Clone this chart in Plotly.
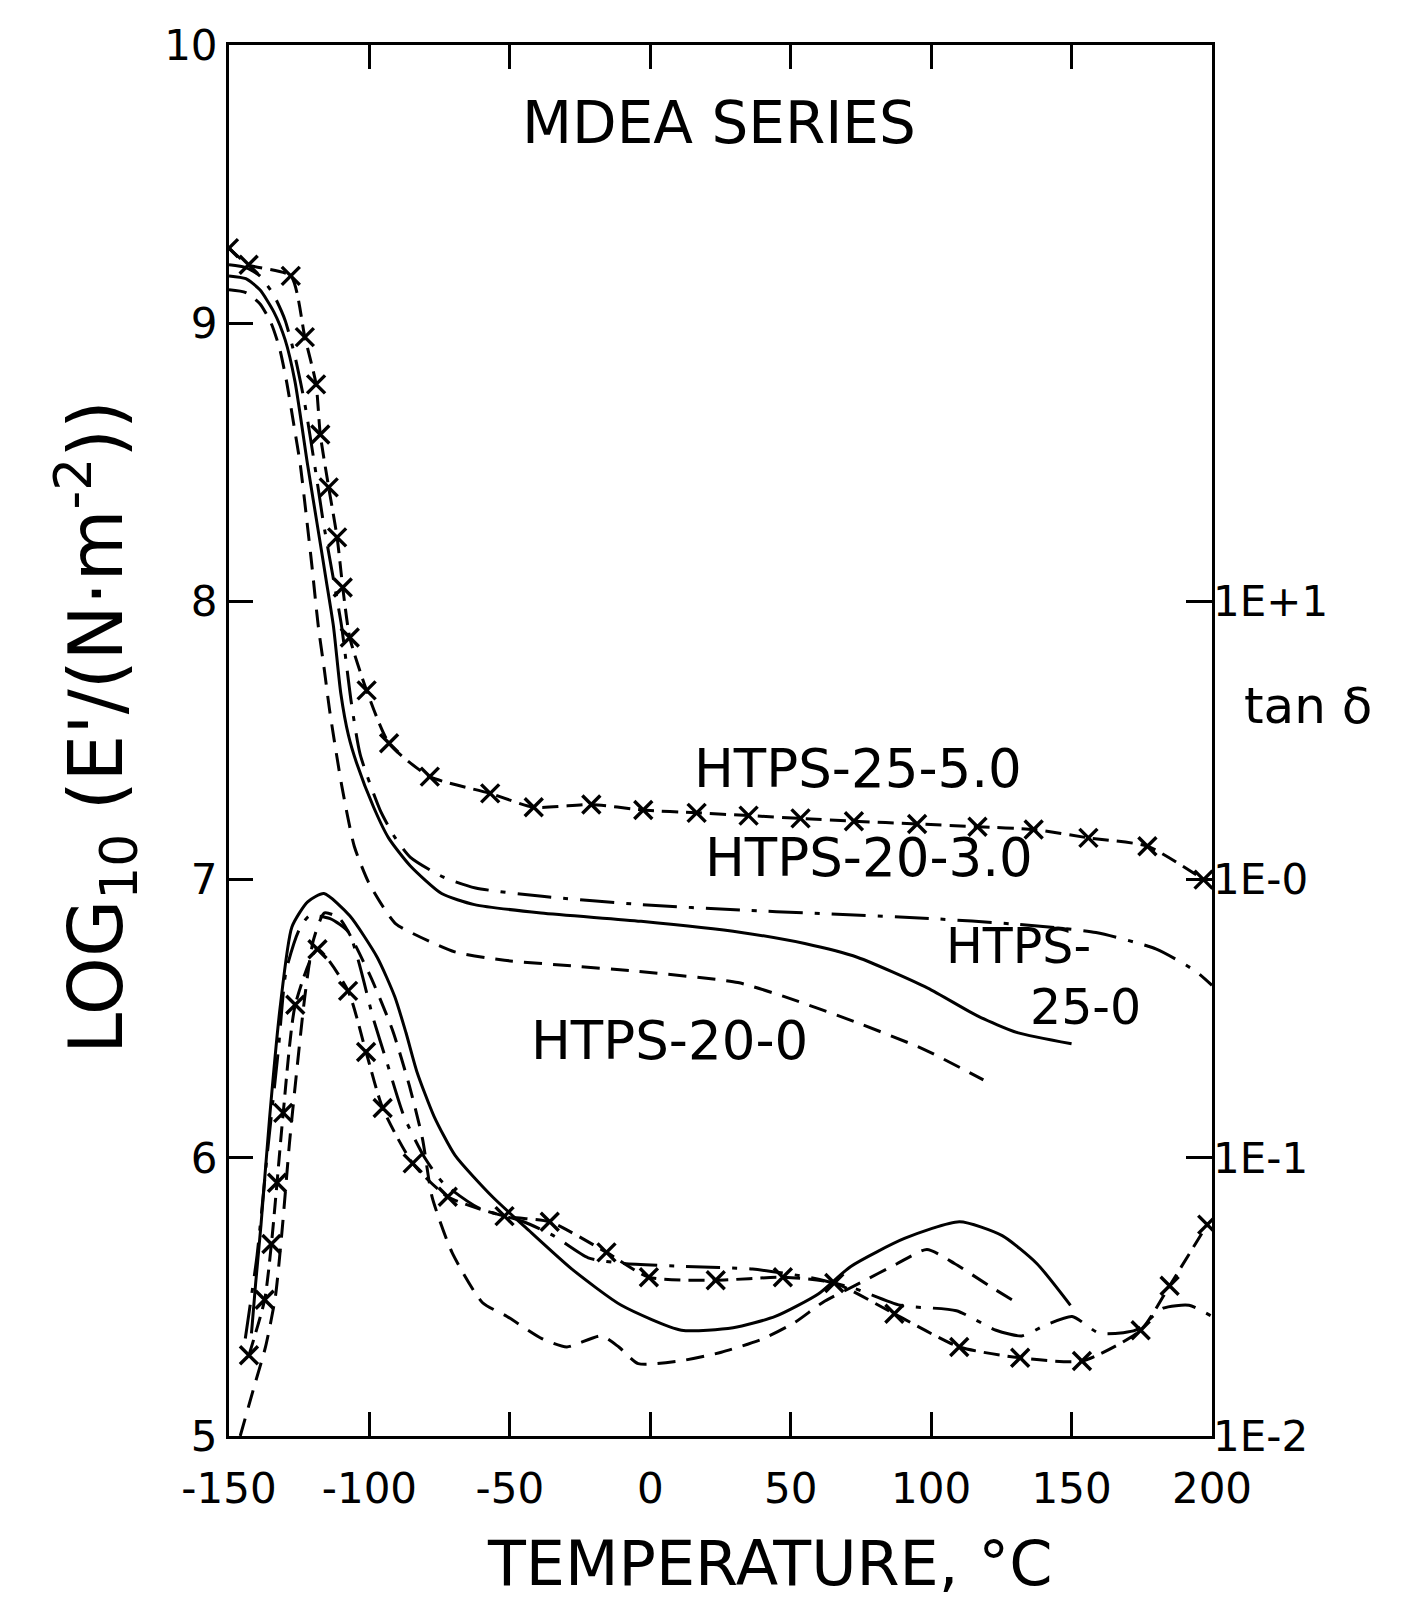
import plotly.graph_objects as go

# ---------------- Storage modulus, log10 E' (N m^-2) ----------------
# HTPS-25-5.0 (dashed line with x markers)
T_E_25_50 = [-150, -143, -128, -123, -119, -117.5, -114.5, -111.5, -109.5, -107, -101, -93,
             -78.5, -57, -41.5, -21, -2.5, 16.5, 35, 53.5, 72.5, 95, 116.5, 136.5, 156, 177, 197]
E_25_50 = [9.27, 9.21, 9.17, 8.95, 8.78, 8.60, 8.41, 8.23, 8.05, 7.87, 7.68, 7.49,
           7.37, 7.31, 7.26, 7.27, 7.25, 7.24, 7.23, 7.22, 7.21, 7.20, 7.19, 7.18, 7.15, 7.12, 7.00]

# HTPS-20-3.0 (dash-dot)
T_E_20_30 = [-150, -144, -139, -134, -130, -126.5, -123, -119.5, -116.5, -113, -109.9, -106.5,
             -103.3, -96.2, -90.8, -85.4, -73.9, -62.2, -38.5, -2.9, 32.9, 56.7, 100, 129.6,
             158.7, 180.2, 194.3, 200]
E_20_30 = [9.21, 9.20, 9.17, 9.10, 9.01, 8.88, 8.71, 8.49, 8.29, 8.09, 7.91, 7.64,
           7.45, 7.25, 7.15, 7.08, 7.01, 6.97, 6.94, 6.91, 6.89, 6.88, 6.86, 6.84,
           6.81, 6.75, 6.67, 6.62]

# HTPS-25-0 (solid)
T_E_25_0 = [-150, -144, -139, -134, -130, -126.5, -122, -118, -115.3, -112.8, -110.2, -107.5,
            -104.6, -98.5, -93.2, -85.5, -74.3, -62.6, -38.9, -3.3, 32.4, 55, 73.9, 98.8,
            116.5, 130.7, 150]
E_25_0 = [9.17, 9.16, 9.12, 9.04, 8.94, 8.79, 8.49, 8.24, 8.07, 7.91, 7.67, 7.52,
          7.42, 7.26, 7.15, 7.05, 6.95, 6.91, 6.88, 6.85, 6.81, 6.77, 6.72, 6.61,
          6.51, 6.45, 6.41]

# HTPS-20-0 (dashed)
T_E_20_0 = [-150, -144, -139, -135, -132, -129.5, -127, -124.6, -122.5, -120.5, -118.2, -116,
            -114.2, -109.9, -105.4, -100.3, -95, -90.5, -81.2, -69.6, -51.9, -28.2, -4.4,
            31.2, 47.5, 72.5, 97.4, 118.6]
E_20_0 = [9.12, 9.11, 9.07, 9.00, 8.91, 8.79, 8.64, 8.49, 8.31, 8.13, 7.91, 7.75,
          7.61, 7.34, 7.12, 6.99, 6.90, 6.84, 6.79, 6.74, 6.71, 6.69, 6.67,
          6.63, 6.58, 6.49, 6.39, 6.28]

# ---------------- Loss tangent, tan delta ----------------
T_tan_25_50 = [-142.9, -137.3, -134.9, -132.9, -130.7, -126.4, -118.5, -107.6, -101.2, -95.3,
               -84.6, -72.1, -51.9, -35.8, -15.6, -0.5, 23.3, 47.2, 65.5, 86.9, 110, 131.7,
               153.7, 174.6, 184.9, 198.3]
tan_25_50 = [0.0195, 0.0309, 0.0490, 0.0813, 0.145, 0.355, 0.562, 0.398, 0.240, 0.151,
             0.0955, 0.0724, 0.0617, 0.0589, 0.0457, 0.0372, 0.0363, 0.0372, 0.0355, 0.0275,
             0.0209, 0.0191, 0.0186, 0.0240, 0.0347, 0.0575]

T_tan_20_30 = [-144.2, -140, -136.3, -132.5, -129.7, -125, -121.4, -114, -107.4, -98.6, -93.7,
               -87.7, -80.3, -73.8, -61.2, -45.1, -34.5, -22.1, -9.3, 12.6, 36.4, 56.5, 72.8,
               89, 109, 123.1, 132.3, 141, 150.2, 159.9, 172.8, 182.6, 191.8, 200]
tan_20_30 = [0.0224, 0.0447, 0.105, 0.240, 0.468, 0.661, 0.741, 0.724, 0.646, 0.316, 0.219,
             0.141, 0.100, 0.0813, 0.0661, 0.0589, 0.0525, 0.0437, 0.0417, 0.0407, 0.0398,
             0.0372, 0.0339, 0.0295, 0.0282, 0.0240, 0.0229, 0.0251, 0.0269, 0.0234, 0.0240,
             0.0288, 0.0295, 0.0269]

T_tan_25_0 = [-142, -140.5, -138.6, -135.5, -131.8, -127.6, -122, -116.2, -107, -97.2, -91, -87,
              -83.1, -77, -69.5, -56.2, -44.4, -27.9, -10.3, 11.1, 29.5, 44.5, 59.8, 71.4,
              90.5, 110.1, 125.3, 137.6, 149.6]
tan_25_0 = [0.0234, 0.0355, 0.0575, 0.141, 0.347, 0.676, 0.832, 0.891, 0.741, 0.525, 0.380,
            0.282, 0.204, 0.141, 0.102, 0.0724, 0.0562, 0.0398, 0.0295, 0.0240, 0.0245,
            0.0269, 0.0324, 0.0407, 0.0513, 0.0589, 0.0525, 0.0417, 0.0295]

T_tan_20_0 = [-146, -141, -137, -133.5, -131, -128.5, -126, -123, -120, -116, -110.6, -100,
              -91.8, -85.8, -81.1, -77.7, -70.6, -59.8, -51, -38.6, -29.7, -17.5, -11.2, -4.3,
              10.4, 25.3, 40.3, 51.7, 61.4, 74.7, 88, 98.5, 108.3, 120.6, 130.3]
tan_20_0 = [0.0100, 0.0151, 0.0209, 0.0316, 0.0562, 0.112, 0.200, 0.380, 0.603, 0.759, 0.724,
            0.457, 0.288, 0.182, 0.117, 0.0724, 0.0457, 0.0302, 0.0269, 0.0224, 0.0209,
            0.0229, 0.0209, 0.0182, 0.0186, 0.0200, 0.0224, 0.0257, 0.0302, 0.0355, 0.0417,
            0.0468, 0.0417, 0.0347, 0.0302]

# ---------------- Axis ticks ----------------
x_ticks = [-150, -100, -50, 0, 50, 100, 150, 200]
x_tick_text = ["-150", "-100", "-50", "0", "50", "100", "150", "200"]
y_ticks = [5, 6, 7, 8, 9, 10]
tan_ticks = [0.01, 0.1, 1, 10]
tan_tick_text = ["1E-2", "1E-1", "1E-0", "1E+1"]

FONT = "DejaVu Sans"
BLACK = "#000000"
LW = 3

DASH = "18px,11px"
DASHDOT = "34px,12px,5px,12px"
DASHX = "16px,8px"

fig = go.Figure()


def add_curve(T, V, dash, axis, with_x=False):
    mode = "lines+markers" if with_x else "lines"
    kw = dict(
        x=T, y=V, mode=mode, yaxis=axis, showlegend=False, hoverinfo="skip",
        line=dict(color=BLACK, width=LW, dash=dash, shape="spline", smoothing=0.6),
    )
    if with_x:
        kw["marker"] = dict(symbol="x-thin", size=18, color=BLACK,
                            line=dict(color=BLACK, width=3.4))
    fig.add_trace(go.Scatter(**kw))


# E' curves
add_curve(T_E_25_50, E_25_50, DASHX, "y", with_x=True)
add_curve(T_E_20_30, E_20_30, DASHDOT, "y")
add_curve(T_E_25_0, E_25_0, "solid", "y")
add_curve(T_E_20_0, E_20_0, DASH, "y")

# tan delta curves
add_curve(T_tan_25_50, tan_25_50, DASHX, "y2", with_x=True)
add_curve(T_tan_20_30, tan_20_30, DASHDOT, "y2")
add_curve(T_tan_25_0, tan_25_0, "solid", "y2")
add_curve(T_tan_20_0, tan_20_0, DASH, "y2")

# Labels in the plot
label_font = dict(family=FONT, size=53, color=BLACK)
labels = [
    ("HTPS-25-5.0", 74, 7.40),
    ("HTPS-20-3.0", 78, 7.08),
    ("HTPS-20-0", 7, 6.42),
]
for txt, xv, yv in labels:
    fig.add_annotation(x=xv, y=yv, xref="x", yref="y", text=txt, showarrow=False,
                       font=label_font, xanchor="center", yanchor="middle")

small_label_font = dict(family=FONT, size=49, color=BLACK)
for txt, xv, yv in [("HTPS-", 131, 6.76), ("25-0", 155, 6.54)]:
    fig.add_annotation(x=xv, y=yv, xref="x", yref="y", text=txt, showarrow=False,
                       font=small_label_font, xanchor="center", yanchor="middle")

fig.add_annotation(x=24.6, y=9.72, xref="x", yref="y", text="MDEA SERIES",
                   showarrow=False, font=dict(family=FONT, size=58, color=BLACK),
                   xanchor="center", yanchor="middle")

fig.add_annotation(x=1.098, y=0.525, xref="paper", yref="paper", text="tan δ",
                   showarrow=False, font=dict(family=FONT, size=50, color=BLACK),
                   xanchor="center", yanchor="middle")

fig.add_annotation(x=-0.135, y=0.51, xref="paper", yref="paper",
                   text="LOG<sub>10</sub> (E'/(N·m<sup>-2</sup>))", textangle=-90,
                   showarrow=False, font=dict(family=FONT, size=74, color=BLACK),
                   xanchor="center", yanchor="middle")

fig.add_annotation(x=0.55, y=-0.092, xref="paper", yref="paper",
                   text="TEMPERATURE, °C", showarrow=False,
                   font=dict(family=FONT, size=62, color=BLACK),
                   xanchor="center", yanchor="middle")

fig.update_layout(
    width=1402, height=1601,
    margin=dict(l=229, r=190, t=45, b=165),
    paper_bgcolor="white", plot_bgcolor="white",
    font=dict(family=FONT, color=BLACK),
    xaxis=dict(
        range=[-150, 200], tickvals=x_ticks, ticktext=x_tick_text, ticks="inside",
        ticklen=24, tickwidth=2.5, ticklabelstandoff=14,
        tickcolor=BLACK, showline=True, linewidth=3, linecolor=BLACK, mirror="ticks",
        showgrid=False, zeroline=False, tickfont=dict(family=FONT, size=42, color=BLACK),
    ),
    yaxis=dict(
        range=[5, 10], tickvals=y_ticks, ticks="inside", ticklen=24, tickwidth=2.5,
        tickcolor=BLACK, showline=True, linewidth=3, linecolor=BLACK, mirror=True,
        showgrid=False, zeroline=False, tickfont=dict(family=FONT, size=42, color=BLACK),
    ),
    yaxis2=dict(
        type="log", range=[-2, 3], overlaying="y", side="right", tickvals=tan_ticks,
        ticktext=tan_tick_text, ticks="inside", ticklen=26, tickwidth=2.5, tickcolor=BLACK,
        showline=False, showgrid=False, zeroline=False,
        tickfont=dict(family=FONT, size=42, color=BLACK),
    ),
)

fig.write_html("out.html")
